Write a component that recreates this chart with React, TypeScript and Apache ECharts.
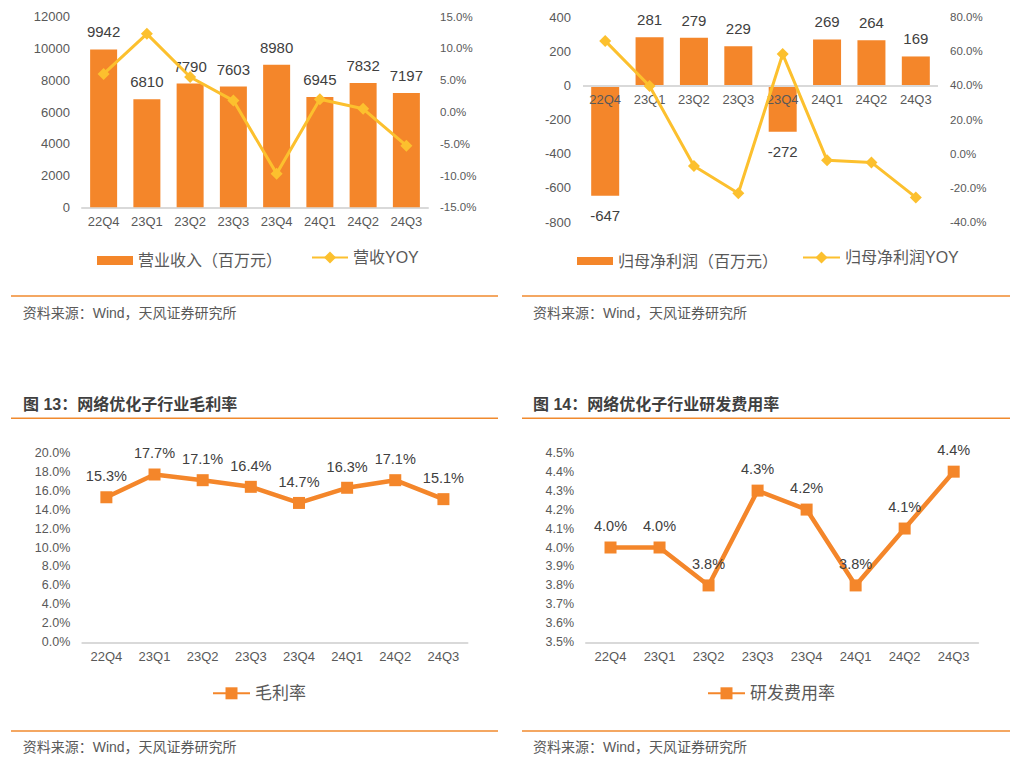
import React, { useEffect, useRef } from "react";
import * as echarts from "echarts";

const categories = ["22Q4", "23Q1", "23Q2", "23Q3", "23Q4", "24Q1", "24Q2", "24Q3"];
const revenue = [9942, 6810, 7790, 7603, 8980, 6945, 7832, 7197];
const revenueYoy = [6.0, 12.3, 5.5, 1.8, -9.7, 2.0, 0.5, -5.3];
const netProfit = [-647, 281, 279, 229, -272, 269, 264, 169];
const netProfitYoy = [66.0, 39.6, -7.2, -23.2, 58.3, -3.9, -5.1, -25.6];
const grossMargin = [15.3, 17.7, 17.1, 16.4, 14.7, 16.3, 17.1, 15.1];
const rdRate = [4.0, 4.0, 3.8, 4.3, 4.2, 3.8, 4.1, 4.4];

const revenueAxis = { min: 0, max: 12000, interval: 2000 };
const revenueYoyAxis = { min: -15, max: 15, interval: 5 };
const profitAxis = { min: -800, max: 400, interval: 200 };
const profitYoyAxis = { min: -40, max: 80, interval: 20 };
const marginAxis = { min: 0, max: 20, interval: 2 };
const rdAxis = { min: 3.5, max: 4.5, interval: 0.1 };

const names = {
  revenue: "营业收入（百万元）",
  revenueYoy: "营收YOY",
  profit: "归母净利润（百万元）",
  profitYoy: "归母净利润YOY",
  margin: "毛利率",
  rd: "研发费用率",
};
const titles = ["图 13：网络优化子行业毛利率", "图 14：网络优化子行业研发费用率"];
const sourceText = "资料来源：Wind，天风证券研究所";

const ORANGE = "#F4862A";
const YELLOW = "#FCC02E";
const LABEL = "#595959";
const DARK = "#404040";
const AXIS = "#D9D9D9";
const FONT = "'Liberation Sans', 'Noto Sans CJK SC', sans-serif";

export default function App() {
  const ref = useRef<HTMLDivElement>(null);
  useEffect(() => {
    if (!ref.current) return;
    const chart = echarts.init(ref.current, undefined, { renderer: "svg" });

    const xAxisBase = (gridIndex: number, labelMargin = 8, z = 0, showLine = true) => ({
      type: "category",
      gridIndex,
      z,
      data: categories,
      axisTick: { show: false },
      axisLine: { show: showLine, onZero: true, lineStyle: { color: AXIS, width: 2 } },
      axisLabel: { color: LABEL, fontSize: 13, margin: labelMargin },
    });
    const yAxisBase = (gridIndex: number, range: any, fmt: any, fontSize: number, position = "left") => ({
      type: "value",
      gridIndex,
      position,
      ...range,
      axisLine: { show: false },
      axisTick: { show: false },
      splitLine: { show: false },
      axisLabel: { color: LABEL, fontSize, margin: 12, formatter: fmt },
    });
    const pct1 = (v: number) => v.toFixed(1) + "%";
    const plain = (v: number) => String(v);

    const lines: any[] = [];
    const hl = (x1: number, x2: number, y: number) =>
      lines.push({ type: "line", shape: { x1, y1: y, x2, y2: y }, style: { stroke: "#F08A2E", lineWidth: 1.5 } });
    [296, 418.3, 731].forEach((y) => {
      hl(11, 498, y);
      hl(522, 1010, y);
    });
    const txt = (x: number, y: number, text: string, fontSize: number, fill: string, bold = false) => ({
      type: "text",
      x,
      y,
      style: { text, fontSize, fill, fontFamily: FONT, fontWeight: bold ? "bold" : "normal", verticalAlign: "middle", align: "left" },
    });

    const option: any = {
      animation: false,
      textStyle: { fontFamily: FONT },
      grid: [
        { left: 82, top: 16.7, width: 346, height: 190.6 },
        { left: 583, top: 17, width: 355, height: 205 },
        { left: 82.3, top: 452.7, width: 385.2, height: 189.6 },
        { left: 586, top: 452.7, width: 392.2, height: 189.6 },
      ],
      xAxis: [xAxisBase(0), xAxisBase(1, -129, 4, false), xAxisBase(2), xAxisBase(3)],
      yAxis: [
        yAxisBase(0, revenueAxis, plain, 13),
        yAxisBase(0, revenueYoyAxis, pct1, 11.5, "right"),
        yAxisBase(1, profitAxis, plain, 13),
        yAxisBase(1, profitYoyAxis, pct1, 11.5, "right"),
        yAxisBase(2, marginAxis, pct1, 12.5),
        yAxisBase(3, rdAxis, pct1, 12.5),
      ],
      legend: [
        { data: [names.revenue], left: 97, top: 252.5, padding: 0, icon: "rect", itemWidth: 36, itemHeight: 9, textStyle: { fontSize: 16, color: LABEL } },
        { data: [names.revenueYoy], left: 311, top: 249.5, padding: 0, itemWidth: 36, itemHeight: 15, textStyle: { fontSize: 16, color: LABEL } },
        { data: [names.profit], left: 577, top: 253, padding: 0, icon: "rect", itemWidth: 36, itemHeight: 8, textStyle: { fontSize: 16, color: LABEL } },
        { data: [names.profitYoy], left: 802, top: 249.5, padding: 0, itemWidth: 37, itemHeight: 15, textStyle: { fontSize: 16, color: LABEL } },
        { data: [names.margin], left: 212, top: 684.8, padding: 0, itemWidth: 37, itemHeight: 15, textStyle: { fontSize: 17, color: LABEL } },
        { data: [names.rd], left: 707, top: 684.8, padding: 0, itemWidth: 37, itemHeight: 15, textStyle: { fontSize: 17, color: LABEL } },
      ],
      series: [
        {
          name: names.revenue,
          type: "bar",
          xAxisIndex: 0,
          yAxisIndex: 0,
          barWidth: 27,
          data: revenue,
          itemStyle: { color: ORANGE },
          label: { show: true, position: "top", distance: 10, fontSize: 15, color: DARK },
        },
        {
          name: names.revenueYoy,
          type: "line",
          xAxisIndex: 0,
          yAxisIndex: 1,
          data: revenueYoy,
          symbol: "diamond",
          symbolSize: 12,
          lineStyle: { color: YELLOW, width: 3 },
          itemStyle: { color: YELLOW },
          z: 5,
        },
        {
          name: names.profit,
          type: "bar",
          xAxisIndex: 1,
          yAxisIndex: 2,
          barWidth: 28,
          data: netProfit.map((v) => ({
            value: v,
            label: { position: v >= 0 ? "top" : "bottom", distance: v >= 0 ? 10 : 12 },
          })),
          itemStyle: { color: ORANGE },
          label: { show: true, fontSize: 15, color: DARK },
          markLine: {
            silent: true,
            symbol: "none",
            label: { show: false },
            lineStyle: { color: AXIS, width: 2, type: "solid" },
            data: [{ yAxis: 0 }],
          },
        },
        {
          name: names.profitYoy,
          type: "line",
          xAxisIndex: 1,
          yAxisIndex: 3,
          data: netProfitYoy,
          symbol: "diamond",
          symbolSize: 12,
          lineStyle: { color: YELLOW, width: 3 },
          itemStyle: { color: YELLOW },
          z: 5,
        },
        {
          name: names.margin,
          type: "line",
          xAxisIndex: 2,
          yAxisIndex: 4,
          data: grossMargin,
          symbol: "rect",
          symbolSize: 12,
          lineStyle: { color: ORANGE, width: 4.5 },
          itemStyle: { color: ORANGE },
          label: { show: true, position: "top", distance: 8, fontSize: 14.5, color: DARK, formatter: (p: any) => pct1(p.value) },
        },
        {
          name: names.rd,
          type: "line",
          xAxisIndex: 3,
          yAxisIndex: 5,
          data: rdRate,
          symbol: "rect",
          symbolSize: 12,
          lineStyle: { color: ORANGE, width: 4.5 },
          itemStyle: { color: ORANGE },
          label: { show: true, position: "top", distance: 8, fontSize: 14.5, color: DARK, formatter: (p: any) => pct1(p.value) },
        },
      ],
      graphic: [
        ...lines,
        txt(22.7, 313.3, sourceText, 14, LABEL),
        txt(533, 313.3, sourceText, 14, LABEL),
        txt(22.7, 747, sourceText, 14, LABEL),
        txt(533, 747, sourceText, 14, LABEL),
        txt(23, 404.3, titles[0], 16, "#3F3F3F", true),
        txt(533, 404.3, titles[1], 16, "#3F3F3F", true),
      ],
    };
    chart.setOption(option);
    return () => chart.dispose();
  }, []);
  return (
    <div
      ref={ref}
      style={{ position: "absolute", left: 0, top: 0, width: 1017, height: 760, background: "#fff" }}
    />
  );
}
